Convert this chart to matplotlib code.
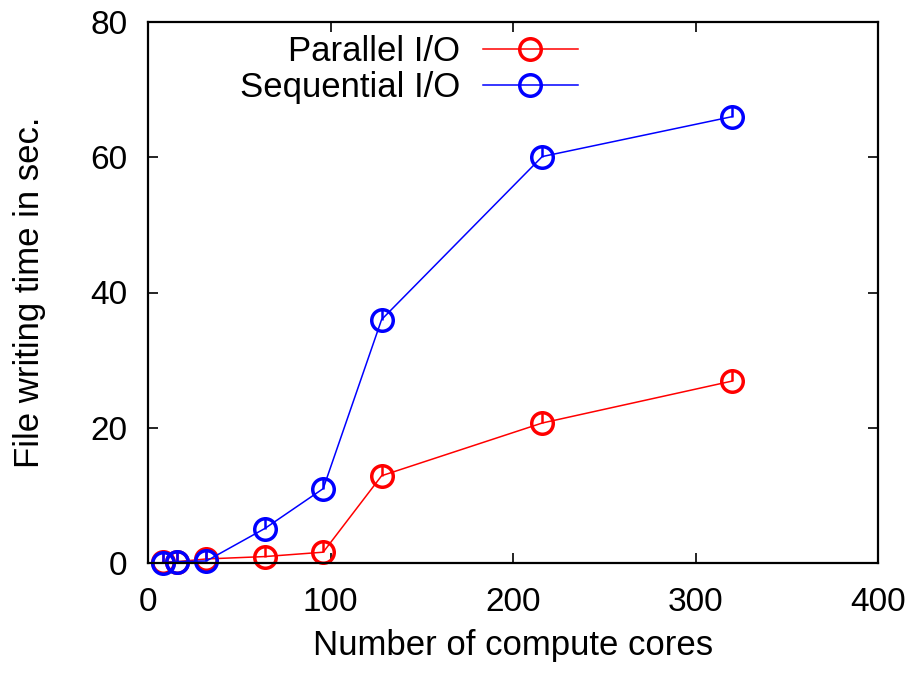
import matplotlib
matplotlib.use("Agg")
import matplotlib.pyplot as plt
from matplotlib.path import Path

plt.rcParams['font.family'] = ['Liberation Sans', 'DejaVu Sans']

cores = [8, 16, 32, 64, 96, 128, 216, 320]
parallel_io = [0.1, 0.2, 0.6, 0.95, 1.6, 12.9, 20.7, 26.9]
sequential_io = [0.05, 0.2, 0.3, 5.1, 11.0, 36.0, 60.1, 66.0]

# gnuplot-ish point: open circle with a tick from centre to top
tick = Path([(0, 0), (0, 1)], [Path.MOVETO, Path.LINETO])

fig = plt.figure(figsize=(9.15, 6.73), dpi=100)
ax = fig.add_axes([148/915, 1 - 563/673, 730/915, 541/673])

def series(y, col, lab):
    ax.plot(cores, y, color=col, lw=1.1, marker='o', ms=15.5, mfc='none',
            mec=col, mew=2.5, label=lab, clip_on=False)
    ax.plot(cores, y, ls='none', marker=tick, ms=15.5, mec=col, mew=1.8,
            clip_on=False)

series(parallel_io, 'red', 'Parallel I/O')
series(sequential_io, 'blue', 'Sequential I/O')

ax.set_xlim(0, 400)
ax.set_ylim(0, 80)
ax.set_xticks([0, 100, 200, 300, 400])
ax.set_yticks([0, 20, 40, 60, 80])
ax.tick_params(direction='in', length=7, width=1.2, labelsize=24,
               top=True, right=True, pad=15)
ax.tick_params(axis='x', pad=17)
for s in ax.spines.values():
    s.set_linewidth(1.6)

ax.set_xlabel('Number of compute cores', fontsize=25, labelpad=8)
ax.set_ylabel('File writing time in sec.', fontsize=25, labelpad=32)

leg = ax.legend(loc='upper right', bbox_to_anchor=(0.589, 0.976), frameon=False,
                fontsize=25, markerfirst=False, handlelength=2.74,
                handletextpad=0.66, labelspacing=0.08, borderaxespad=0,
                borderpad=0)
for t in leg.get_texts():
    t.set_ha('right')
    t.set_position((0, 0))
leg._legend_box.align = 'right'

fig.savefig('out.png', dpi=100)
